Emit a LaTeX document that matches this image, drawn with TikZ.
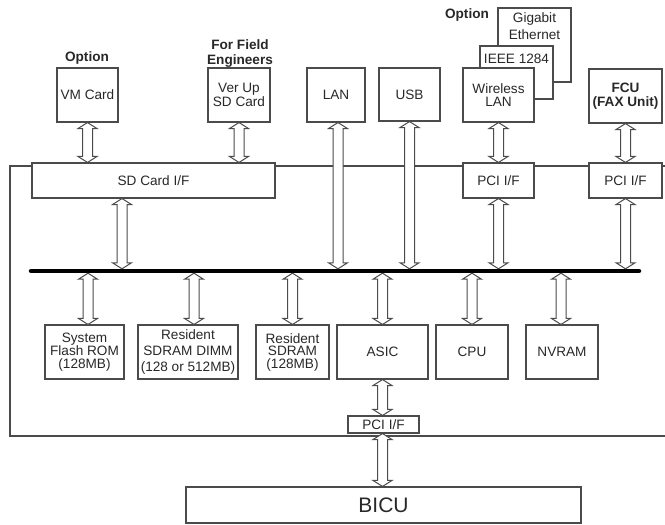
\documentclass[tikz,border=0pt]{standalone}
\usepackage{fontspec}
\setmainfont{Liberation Sans}
\usetikzlibrary{calc}
\definecolor{lc}{RGB}{75,75,75}
\definecolor{tc}{RGB}{40,40,40}
\newcommand{\fs}{\fontsize{13.6}{12.5}\selectfont}
\newcommand{\dar}[2]{%
  \draw[arr] let \p1=(#1), \p2=(#2) in
    (\x1,\y1) -- (\x1+9.5pt,\y1-6pt) -- (\x1+5pt,\y1-6pt) -- (\x1+5pt,\y2+6pt)
    -- (\x1+9.5pt,\y2+6pt) -- (\x1,\y2) -- (\x1-9.5pt,\y2+6pt) -- (\x1-5pt,\y2+6pt)
    -- (\x1-5pt,\y1-6pt) -- (\x1-9.5pt,\y1-6pt) -- cycle;}
\begin{document}
\begin{tikzpicture}[x=1pt,y=-1pt,
  box/.style={draw=lc, fill=white, line width=1.1pt, inner sep=0pt, align=center, font=\fs, text=tc},
  txt/.style={inner sep=0pt, align=center, font=\fs, text=tc},
  note/.style={inner sep=0pt, align=center, font=\fs\bfseries, text=tc},
  arr/.style={draw=lc, fill=white, line width=1pt, line join=miter},
  frame/.style={draw=lc, line width=1.1pt},
  bus/.style={draw=black, line width=4.5pt, line cap=round}]
\useasboundingbox (0,0) rectangle (665,525);

% main board frame
\coordinate (fTR) at (665,166);
\coordinate (fTL) at (10,166);
\coordinate (fBL) at (10,436);
\coordinate (fBR) at (665,436);
\draw[frame] (fTR) -- (fTL) -- (fBL) -- (fBR);

% bus
\coordinate (busL) at (31,271);
\coordinate (busR) at (639,271);
\coordinate (busT) at (31,268.8);
\coordinate (busB) at (31,273.2);
\draw[bus] (busL) -- (busR);

% top options
\node[note] (opt1) at (87,58) {Option};
\node[note, font=\fontsize{13.6}{15}\selectfont\bfseries] (ffe) at (240,53.5) {For Field\\Engineers};
\node[note] (opt2) at (467,15) {Option};

\node[box, minimum width=61, minimum height=54] (vm) at (87.5,95) {VM Card};
\node[box, minimum width=62, minimum height=54, font=\fontsize{13.6}{12.5}\selectfont] (ver) at (239,95) {Ver Up\\SD Card};
\node[box, minimum width=58, minimum height=54] (lan) at (336,95) {LAN};
\node[box, minimum width=61, minimum height=53] (usb) at (409.5,94.5) {USB};

\node[box, minimum width=73, minimum height=74] (gig) at (534.5,45) {};
\node[txt, font=\fontsize{13.6}{17}\selectfont] (gigT) at (534.5,26.5) {Gigabit\\Ethernet};
\node[box, minimum width=73, minimum height=53] (ieee) at (516.5,72.5) {};
\node[txt] (ieeeT) at (516.5,59) {IEEE 1284};
\node[box, minimum width=71, minimum height=54, font=\fontsize{13.6}{13}\selectfont] (wlan) at (498.5,95) {Wireless\\LAN};
\node[box, minimum width=73, minimum height=54, font=\fontsize{13.6}{14}\selectfont\bfseries] (fcu) at (625.5,96) {FCU\\(FAX Unit)};

% interfaces
\node[box, minimum width=243, minimum height=35] (sd) at (153.5,180.5) {SD Card I/F};
\node[box, minimum width=71, minimum height=35] (pci1) at (498.5,180.5) {PCI I/F};
\node[box, minimum width=73, minimum height=35] (pci2) at (625.5,180.5) {PCI I/F};

% lower devices
\node[box, minimum width=79, minimum height=54, font=\fontsize{13.6}{12.5}\selectfont] (flash) at (84.5,352) {System\\Flash ROM\\(128MB)};
\node[box, minimum width=100, minimum height=54, font=\fontsize{13.6}{16}\selectfont] (dimm) at (188,352) {Resident\\SDRAM DIMM\\(128 or 512MB)};
\node[box, minimum width=73, minimum height=54, font=\fontsize{13.6}{12.5}\selectfont] (rsd) at (292.5,352) {Resident\\SDRAM\\(128MB)};
\node[box, minimum width=91, minimum height=54] (asic) at (382.5,352) {ASIC};
\node[box, minimum width=72, minimum height=54] (cpu) at (472,352) {CPU};
\node[box, minimum width=72, minimum height=54] (nvram) at (562,352) {NVRAM};

\node[box, minimum width=71, minimum height=17] (pci3) at (383.5,424.5) {PCI I/F};
\node[box, minimum width=395, minimum height=36, font=\fontsize{21}{24}\selectfont] (bicu) at (383.5,505) {BICU};

% arrow anchor points
\coordinate (lanA) at ($(lan.south)+(2,0)$);
\coordinate (sdA) at ($(sd.south)+(-31.5,0)$);
\coordinate (flashA) at ($(flash.north)+(3.5,0)$);
\coordinate (dimmA) at ($(dimm.north)+(6,0)$);
\coordinate (nvramA) at ($(nvram.north)+(-1,0)$);

% arrows, top
\dar{vm.south}{vm.south |- sd.north}
\dar{ver.south}{ver.south |- sd.north}
\dar{wlan.south}{wlan.south |- pci1.north}
\dar{fcu.south}{fcu.south |- pci2.north}
\dar{lanA}{lanA |- busT}
\dar{usb.south}{usb.south |- busT}
\dar{sdA}{sdA |- busT}
\dar{pci1.south}{pci1.south |- busT}
\dar{pci2.south}{pci2.south |- busT}

% arrows, bottom
\dar{flashA |- busB}{flashA}
\dar{dimmA |- busB}{dimmA}
\dar{rsd.north |- busB}{rsd.north}
\dar{asic.north |- busB}{asic.north}
\dar{cpu.north |- busB}{cpu.north}
\dar{nvramA |- busB}{nvramA}
\dar{asic.south}{asic.south |- pci3.north}
\dar{asic.south |- pci3.south}{asic.south |- bicu.north}
\end{tikzpicture}
\end{document}
